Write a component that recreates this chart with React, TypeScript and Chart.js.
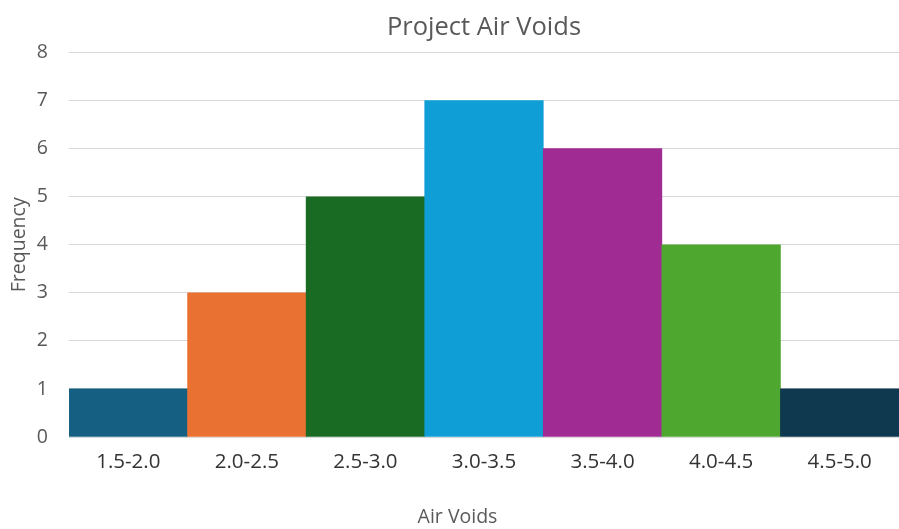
import React, { useEffect, useRef } from "react";
import { Chart, registerables } from "chart.js";

Chart.register(...registerables);

const categories = ["1.5-2.0", "2.0-2.5", "2.5-3.0", "3.0-3.5", "3.5-4.0", "4.0-4.5", "4.5-5.0"];
const frequencies = [1, 3, 5, 7, 6, 4, 1];
const barColors = ["#156082", "#E97132", "#196B24", "#0F9ED5", "#A02B93", "#4EA72E", "#0E394E"];
const yTicks = [0, 1, 2, 3, 4, 5, 6, 7, 8];
const xAxisTitle = "Air Voids";

const FONT = "'Open Sans', 'Liberation Sans', sans-serif";

const xTitlePlugin = {
  id: "xTitlePlugin",
  afterDraw(chart: any) {
    const { ctx } = chart;
    ctx.save();
    ctx.font = `19.5px ${FONT}`;
    ctx.fillStyle = "#595959";
    ctx.textAlign = "center";
    ctx.textBaseline = "middle";
    ctx.fillText(xAxisTitle, chart.width / 2 + 8, chart.height - 12);
    ctx.restore();
  },
};

export default function App() {
  const ref = useRef<HTMLCanvasElement | null>(null);

  useEffect(() => {
    document.body.style.margin = "0";
    const canvas = ref.current;
    if (!canvas) return;
    const chart = new Chart(canvas, {
      type: "bar",
      data: {
        labels: categories,
        datasets: [
          {
            label: "Frequency",
            data: frequencies,
            backgroundColor: barColors,
            borderWidth: 0,
            barPercentage: 1,
            categoryPercentage: 1,
          },
        ],
      },
      plugins: [xTitlePlugin],
      options: {
        animation: false,
        responsive: false,
        maintainAspectRatio: false,
        layout: { padding: { top: 12, right: 0, bottom: 0, left: 0 } },
        plugins: {
          legend: { display: false },
          tooltip: { enabled: false },
          title: {
            display: true,
            text: "Project Air Voids",
            fullSize: false,
            color: "#595959",
            font: { family: FONT, size: 25.5, weight: "normal" },
            padding: { top: 0, bottom: 10 },
          },
        },
        scales: {
          x: {
            afterFit: (axis: any) => {
              axis.height = 92;
            },
            grid: { display: false, drawTicks: false },
            border: { display: true, color: "#d9d9d9", width: 1 },
            ticks: {
              color: "#333333",
              font: { family: FONT, size: 20.5 },
              padding: 13,
              maxRotation: 0,
            },
            title: { display: false },
          },
          y: {
            min: 0,
            max: 8,
            afterBuildTicks: (axis: any) => {
              axis.ticks = yTicks.map((v) => ({ value: v }));
            },
            afterFit: (axis: any) => {
              axis.width = 69;
            },
            grid: { color: "#d9d9d9", lineWidth: 1, drawTicks: false },
            border: { display: false },
            ticks: {
              color: "#595959",
              font: { family: FONT, size: 19.5 },
              padding: 21,
            },
            title: {
              display: true,
              text: "Frequency",
              color: "#595959",
              font: { family: FONT, size: 19.5 },
              padding: { top: 8, bottom: 0 },
            },
          },
        },
      },
    });
    return () => chart.destroy();
  }, []);

  return (
    <div style={{ width: 899, height: 529, background: "#ffffff" }}>
      <canvas ref={ref} width={899} height={529} style={{ display: "block" }} />
    </div>
  );
}
